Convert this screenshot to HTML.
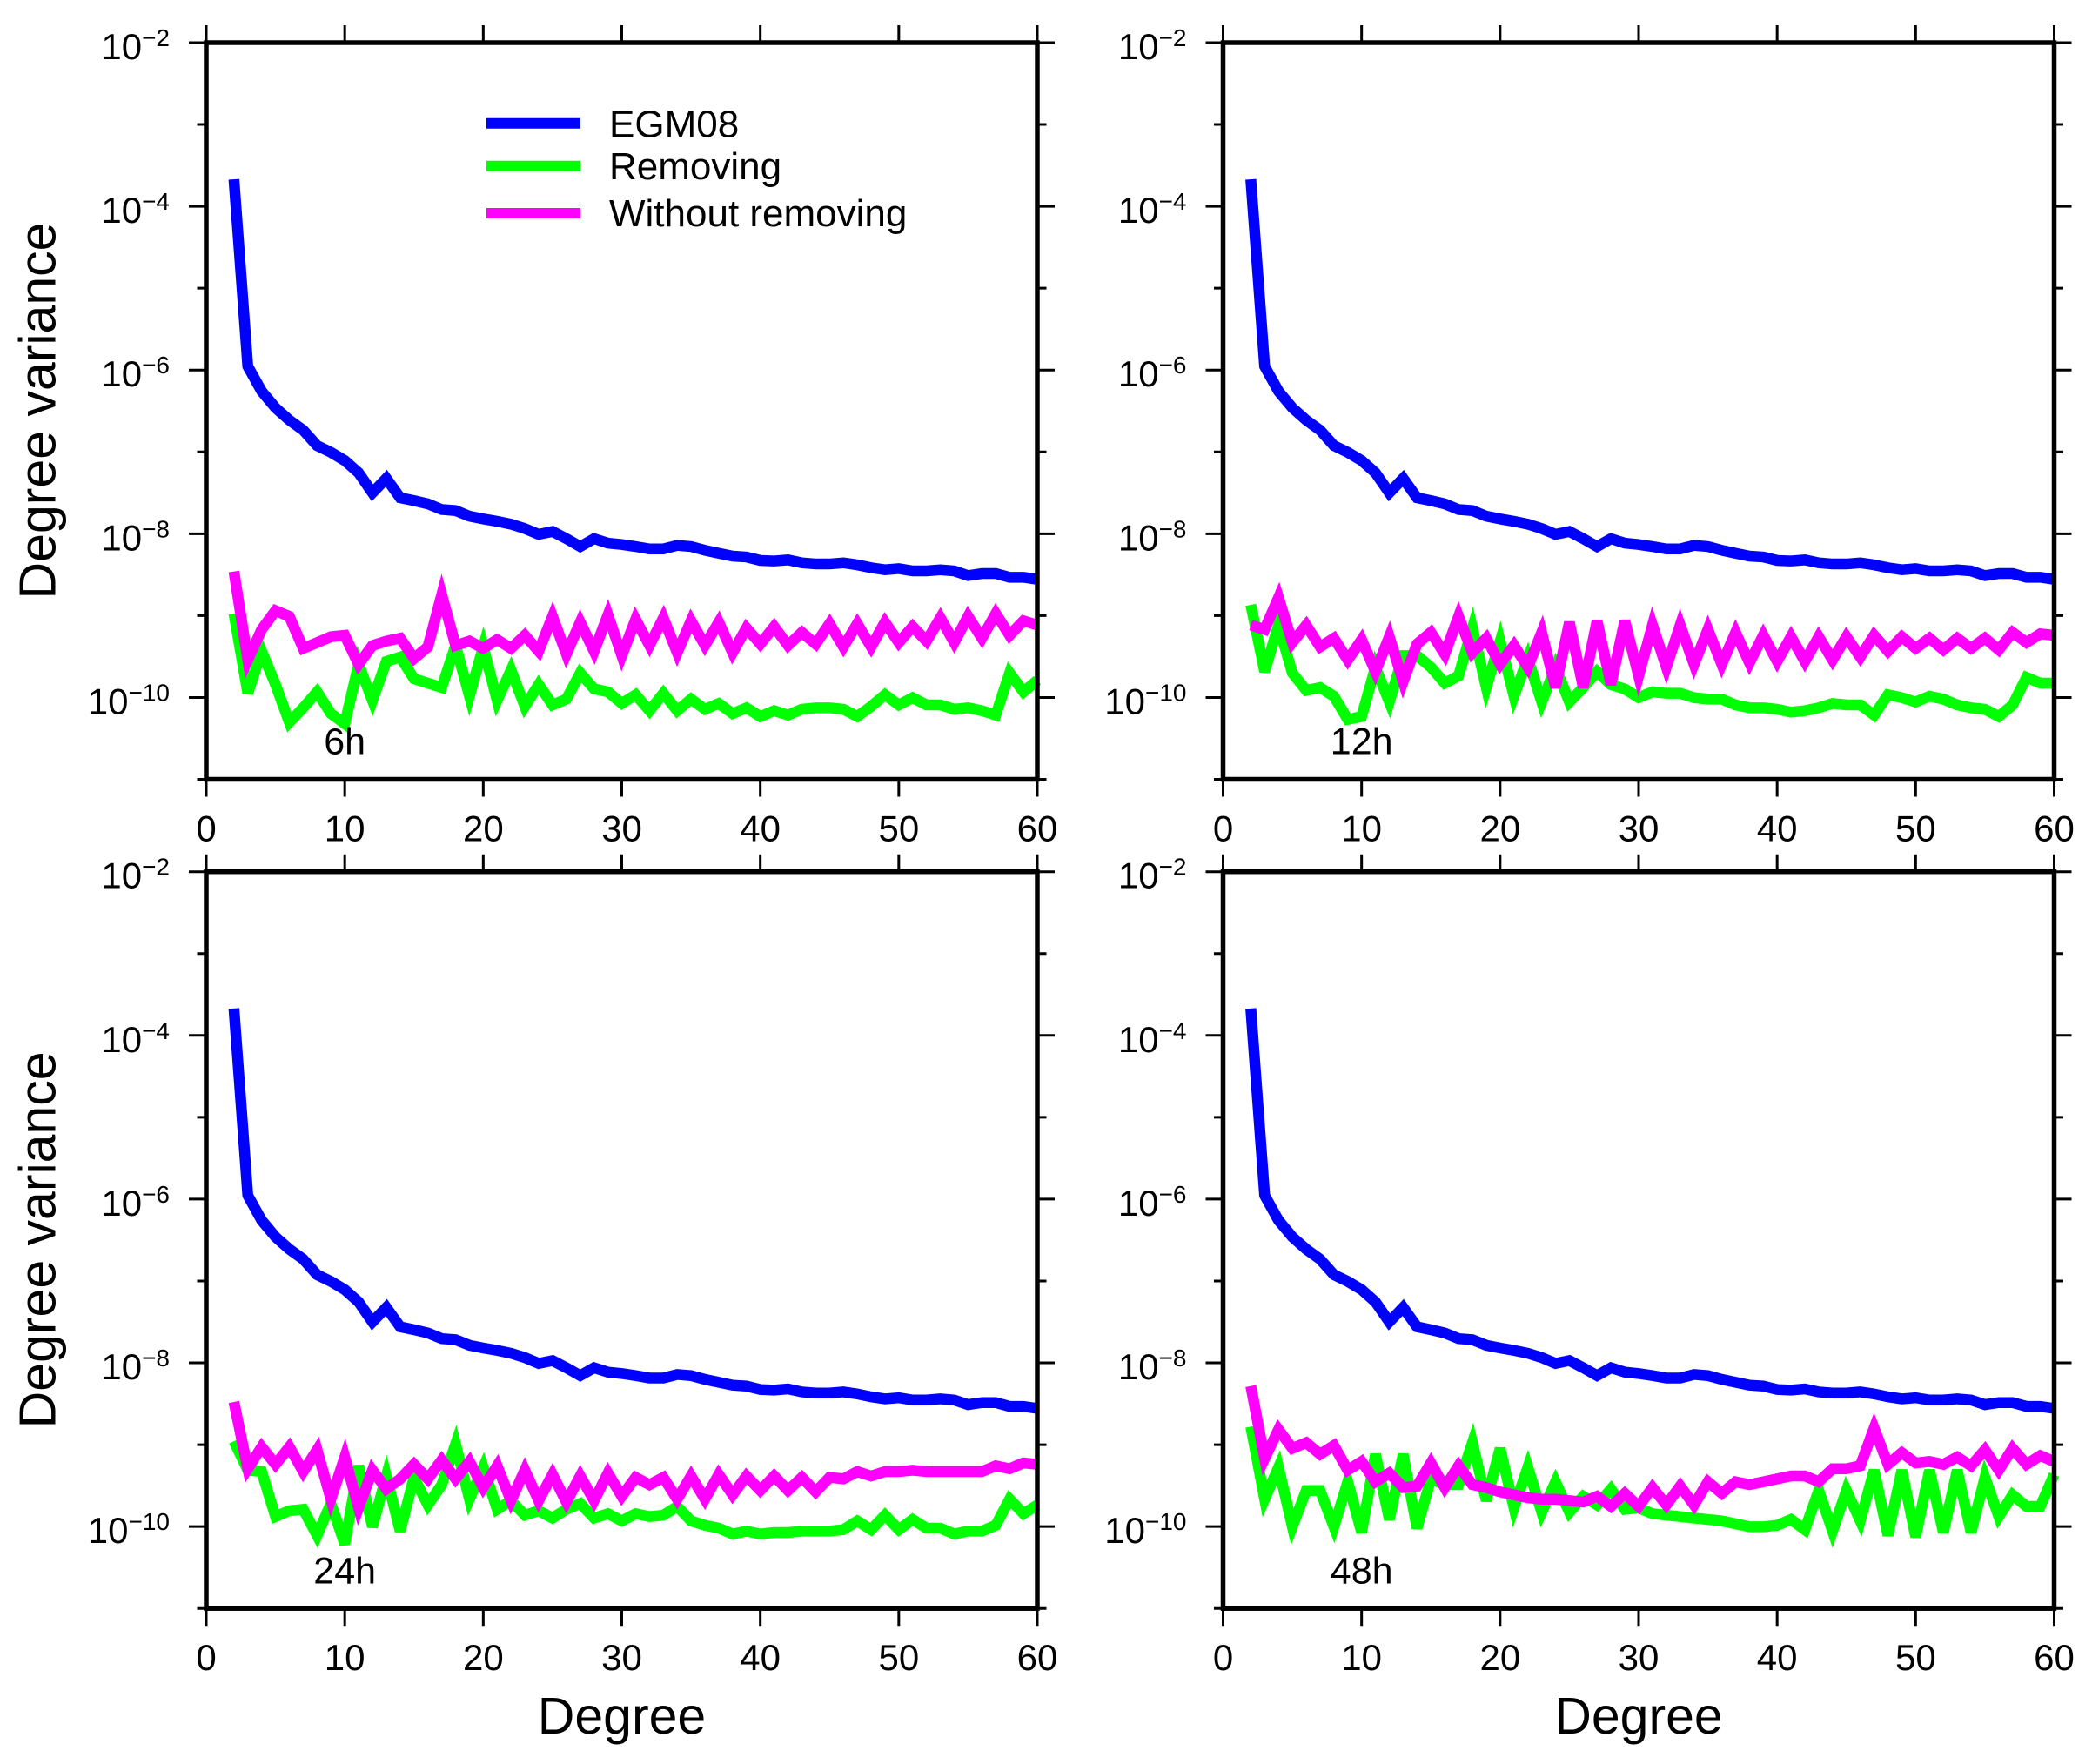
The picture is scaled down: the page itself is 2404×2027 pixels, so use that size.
<!DOCTYPE html>
<html>
<head>
<meta charset="utf-8">
<style>
html,body{margin:0;padding:0;background:#fff;}
svg{display:block;}
text{font-family:"Liberation Sans",Arial,sans-serif;fill:#000;}
</style>
</head>
<body>
<svg width="2404" height="2027" viewBox="0 0 2404 2027" xmlns="http://www.w3.org/2000/svg">
<rect x="0" y="0" width="2404" height="2027" fill="#fff"/>
<defs>
<path id="ticks" fill="none" stroke="#000" stroke-width="3" d="M0 0V-20 M159.17 0V-20 M318.33 0V-20 M477.5 0V-20 M636.67 0V-20 M795.83 0V-20 M955 0V-20 M0 846.5V866.5 M159.17 846.5V866.5 M318.33 846.5V866.5 M477.5 846.5V866.5 M636.67 846.5V866.5 M795.83 846.5V866.5 M955 846.5V866.5 M-20 0H0 M-20 188.11H0 M-20 376.22H0 M-20 564.33H0 M-20 752.44H0 M-10.5 94.06H0 M-10.5 282.17H0 M-10.5 470.28H0 M-10.5 658.39H0 M-10.5 846.5H0 M955 0H975 M955 188.11H975 M955 376.22H975 M955 564.33H975 M955 752.44H975 M955 94.06H965.5 M955 282.17H965.5 M955 470.28H965.5 M955 658.39H965.5 M955 846.5H965.5"/>
<polyline id="egm" fill="none" stroke="#0000ff" stroke-width="12.5" vector-effect="non-scaling-stroke" stroke-linejoin="miter" points="2,3.67 3,5.954 4,6.259 5,6.462 6,6.612 7,6.734 8,6.923 9,7.005 10,7.106 11,7.256 12,7.5 13,7.323 14,7.56 15,7.595 16,7.635 17,7.704 18,7.717 19,7.785 20,7.819 21,7.848 22,7.883 23,7.936 24,8.007 25,7.972 26,8.06 27,8.156 28,8.06 29,8.114 30,8.131 31,8.156 32,8.185 33,8.185 34,8.142 35,8.156 36,8.202 37,8.238 38,8.273 39,8.284 40,8.326 41,8.333 42,8.319 43,8.355 44,8.369 45,8.369 46,8.355 47,8.38 48,8.415 49,8.44 50,8.426 51,8.454 52,8.454 53,8.44 54,8.454 55,8.511 56,8.486 57,8.486 58,8.532 59,8.532 60,8.557"/>
</defs>

<!-- ============ PANEL TL (6h) ============ -->
<g transform="translate(237,49)">
  <use href="#egm" transform="matrix(15.917 0 0 94.056 0 -188.11)"/>
  <polyline fill="none" stroke="#00ff00" stroke-width="12.5" vector-effect="non-scaling-stroke" transform="matrix(15.917 0 0 0.33333 0 541)" points="2,345 3,620 4,475 5,590 6,720 7,670 8,615 9,690 10,725 11,520 12,645 13,510 14,495 15,570 16,585 17,600 18,455 19,630 20,460 21,645 22,540 23,665 24,590 25,660 26,640 27,550 28,605 29,615 30,655 31,625 32,680 33,620 34,680 35,640 36,675 37,655 38,690 39,670 40,700 41,680 42,695 43,675 44,670 45,670 46,675 47,700 48,665 49,625 50,660 51,635 52,660 53,660 54,675 55,670 56,680 57,695 58,550 59,615 60,575"/>
  <polyline fill="none" stroke="#ff00ff" stroke-width="12.5" vector-effect="non-scaling-stroke" transform="matrix(15.917 0 0 0.33333 0 541)" points="2,200 3,505 4,400 5,335 6,355 7,465 8,445 9,425 10,420 11,520 12,455 13,440 14,430 15,500 16,460 17,280 18,455 19,440 20,465 21,435 22,465 23,420 24,475 25,355 26,485 27,375 28,475 29,350 30,490 31,365 32,455 33,360 34,480 35,370 36,455 37,375 38,480 39,395 40,450 41,390 42,455 43,410 44,450 45,380 46,460 47,380 48,460 49,375 50,445 51,390 52,440 53,360 54,445 55,355 56,430 57,345 58,420 59,370 60,385"/>
  <rect x="0" y="0" width="955" height="846.5" fill="none" stroke="#000" stroke-width="5.5"/>
  <use href="#ticks"/>
  <g font-size="42" text-anchor="end">
    <text x="-42" y="19">10<tspan font-size="28" dy="-15">−2</tspan></text>
    <text x="-42" y="207.1">10<tspan font-size="28" dy="-15">−4</tspan></text>
    <text x="-42" y="395.2">10<tspan font-size="28" dy="-15">−6</tspan></text>
    <text x="-42" y="583.3">10<tspan font-size="28" dy="-15">−8</tspan></text>
    <text x="-42" y="771.4">10<tspan font-size="28" dy="-15">−10</tspan></text>
  </g>
  <g font-size="42" text-anchor="middle">
    <text x="0" y="917.5">0</text>
    <text x="159.17" y="917.5">10</text>
    <text x="318.33" y="917.5">20</text>
    <text x="477.5" y="917.5">30</text>
    <text x="636.67" y="917.5">40</text>
    <text x="795.83" y="917.5">50</text>
    <text x="955" y="917.5">60</text>
  </g>
  <text x="159.17" y="817.7" font-size="43" text-anchor="middle">6h</text>
</g>

<!-- Legend -->
<g>
  <line x1="559" y1="141.7" x2="667" y2="141.7" stroke="#0000ff" stroke-width="12"/>
  <line x1="559" y1="190.7" x2="667" y2="190.7" stroke="#00ff00" stroke-width="12"/>
  <line x1="559" y1="245" x2="667" y2="245" stroke="#ff00ff" stroke-width="12"/>
  <text x="700" y="157.3" font-size="44">EGM08</text>
  <text x="700" y="206" font-size="44">Removing</text>
  <text x="700" y="260" font-size="44">Without removing</text>
</g>

<!-- ============ PANEL TR (12h) ============ -->
<g transform="translate(1405.5,49)">
  <use href="#egm" transform="matrix(15.917 0 0 94.056 0 -188.11)"/>
  <polyline fill="none" stroke="#00ff00" stroke-width="12.5" vector-effect="non-scaling-stroke" transform="matrix(15.917 0 0 0.33333 0 541)" points="2,315 3,545 4,385 5,550 6,610 7,600 8,630 9,710 10,700 11,530 12,650 13,490 14,490 15,530 16,585 17,560 18,395 19,600 20,440 21,630 22,500 23,650 24,530 25,650 26,600 27,545 28,590 29,605 30,635 31,615 32,620 33,620 34,635 35,640 36,640 37,660 38,670 39,670 40,675 41,685 42,680 43,670 44,655 45,660 46,660 47,695 48,625 49,635 50,650 51,630 52,640 53,660 54,670 55,675 56,700 57,660 58,565 59,585 60,585"/>
  <polyline fill="none" stroke="#ff00ff" stroke-width="12.5" vector-effect="non-scaling-stroke" transform="matrix(15.917 0 0 0.33333 0 541)" points="2,385 3,400 4,290 5,445 6,385 7,460 8,430 9,505 10,435 11,545 12,425 13,580 14,450 15,410 16,485 17,355 18,480 19,430 20,520 21,455 22,530 23,410 24,600 25,375 26,600 27,370 28,590 29,370 30,560 31,385 32,530 33,385 34,520 35,400 36,520 37,410 38,515 39,420 40,510 41,425 42,510 43,425 44,505 45,425 46,495 47,420 48,475 49,425 50,465 51,430 52,470 53,430 54,465 55,430 56,470 57,410 58,445 59,415 60,420"/>
  <rect x="0" y="0" width="955" height="846.5" fill="none" stroke="#000" stroke-width="5.5"/>
  <use href="#ticks"/>
  <g font-size="42" text-anchor="end">
    <text x="-42" y="19">10<tspan font-size="28" dy="-15">−2</tspan></text>
    <text x="-42" y="207.1">10<tspan font-size="28" dy="-15">−4</tspan></text>
    <text x="-42" y="395.2">10<tspan font-size="28" dy="-15">−6</tspan></text>
    <text x="-42" y="583.3">10<tspan font-size="28" dy="-15">−8</tspan></text>
    <text x="-42" y="771.4">10<tspan font-size="28" dy="-15">−10</tspan></text>
  </g>
  <g font-size="42" text-anchor="middle">
    <text x="0" y="917.5">0</text>
    <text x="159.17" y="917.5">10</text>
    <text x="318.33" y="917.5">20</text>
    <text x="477.5" y="917.5">30</text>
    <text x="636.67" y="917.5">40</text>
    <text x="795.83" y="917.5">50</text>
    <text x="955" y="917.5">60</text>
  </g>
  <text x="159.17" y="817.7" font-size="43" text-anchor="middle">12h</text>
</g>

<!-- ============ PANEL BL (24h) ============ -->
<g transform="translate(237,1001.7)">
  <use href="#egm" transform="matrix(15.917 0 0 94.056 0 -188.11)"/>
  <polyline fill="none" stroke="#00ff00" stroke-width="12.5" vector-effect="non-scaling-stroke" transform="matrix(15.917 0 0 0.33333 0 541)" points="2,340 3,440 4,445 5,600 6,580 7,575 8,665 9,555 10,695 11,425 12,635 13,460 14,650 15,465 16,560 17,490 18,350 19,540 20,430 21,575 22,545 23,595 24,580 25,605 26,575 27,555 28,605 29,590 30,615 31,590 32,600 33,595 34,565 35,615 36,630 37,640 38,660 39,650 40,660 41,655 42,655 43,650 44,650 45,650 46,645 47,615 48,645 49,595 50,645 51,610 52,640 53,640 54,660 55,650 56,650 57,630 58,540 59,590 60,560"/>
  <polyline fill="none" stroke="#ff00ff" stroke-width="12.5" vector-effect="non-scaling-stroke" transform="matrix(15.917 0 0 0.33333 0 541)" points="2,205 3,435 4,360 5,420 6,360 7,445 8,370 9,540 10,395 11,570 12,440 13,505 14,470 15,420 16,470 17,405 18,470 19,410 20,500 21,425 22,545 23,440 24,545 25,455 26,550 27,460 28,545 29,450 30,530 31,465 32,490 33,465 34,540 35,460 36,540 37,455 38,525 39,460 40,510 41,460 42,510 43,465 44,515 45,465 46,470 47,445 48,460 49,445 50,445 51,440 52,445 53,445 54,445 55,445 56,445 57,425 58,435 59,415 60,420"/>
  <rect x="0" y="0" width="955" height="846.5" fill="none" stroke="#000" stroke-width="5.5"/>
  <use href="#ticks"/>
  <g font-size="42" text-anchor="end">
    <text x="-42" y="19">10<tspan font-size="28" dy="-15">−2</tspan></text>
    <text x="-42" y="207.1">10<tspan font-size="28" dy="-15">−4</tspan></text>
    <text x="-42" y="395.2">10<tspan font-size="28" dy="-15">−6</tspan></text>
    <text x="-42" y="583.3">10<tspan font-size="28" dy="-15">−8</tspan></text>
    <text x="-42" y="771.4">10<tspan font-size="28" dy="-15">−10</tspan></text>
  </g>
  <g font-size="42" text-anchor="middle">
    <text x="0" y="917.5">0</text>
    <text x="159.17" y="917.5">10</text>
    <text x="318.33" y="917.5">20</text>
    <text x="477.5" y="917.5">30</text>
    <text x="636.67" y="917.5">40</text>
    <text x="795.83" y="917.5">50</text>
    <text x="955" y="917.5">60</text>
  </g>
  <text x="159.17" y="817.7" font-size="43" text-anchor="middle">24h</text>
</g>

<!-- ============ PANEL BR (48h) ============ -->
<g transform="translate(1405.5,1001.7)">
  <use href="#egm" transform="matrix(15.917 0 0 94.056 0 -188.11)"/>
  <polyline fill="none" stroke="#00ff00" stroke-width="12.5" vector-effect="non-scaling-stroke" transform="matrix(15.917 0 0 0.33333 0 541)" points="2,290 3,540 4,430 5,635 6,510 7,510 8,635 9,480 10,655 11,385 12,610 13,385 14,640 15,470 16,490 17,490 18,345 19,545 20,365 21,570 22,430 23,585 24,480 25,585 26,530 27,560 28,505 29,575 30,570 31,590 32,595 33,600 34,605 35,610 36,615 37,625 38,635 39,635 40,630 41,610 42,645 43,510 44,650 45,510 46,615 47,440 48,665 49,440 50,670 51,440 52,655 53,440 54,655 55,465 56,600 57,525 58,565 59,565 60,455"/>
  <polyline fill="none" stroke="#ff00ff" stroke-width="12.5" vector-effect="non-scaling-stroke" transform="matrix(15.917 0 0 0.33333 0 541)" points="2,150 3,400 4,300 5,365 6,345 7,385 8,355 9,440 10,410 11,480 12,450 13,500 14,495 15,415 16,500 17,425 18,490 19,500 20,515 21,525 22,535 23,540 24,540 25,545 26,550 27,530 28,565 29,520 30,565 31,500 32,560 33,495 34,560 35,480 36,520 37,480 38,490 39,480 40,470 41,460 42,460 43,480 44,435 45,435 46,425 47,295 48,420 49,380 50,415 51,410 52,420 53,395 54,425 55,370 56,440 57,365 58,420 59,390 60,410"/>
  <rect x="0" y="0" width="955" height="846.5" fill="none" stroke="#000" stroke-width="5.5"/>
  <use href="#ticks"/>
  <g font-size="42" text-anchor="end">
    <text x="-42" y="19">10<tspan font-size="28" dy="-15">−2</tspan></text>
    <text x="-42" y="207.1">10<tspan font-size="28" dy="-15">−4</tspan></text>
    <text x="-42" y="395.2">10<tspan font-size="28" dy="-15">−6</tspan></text>
    <text x="-42" y="583.3">10<tspan font-size="28" dy="-15">−8</tspan></text>
    <text x="-42" y="771.4">10<tspan font-size="28" dy="-15">−10</tspan></text>
  </g>
  <g font-size="42" text-anchor="middle">
    <text x="0" y="917.5">0</text>
    <text x="159.17" y="917.5">10</text>
    <text x="318.33" y="917.5">20</text>
    <text x="477.5" y="917.5">30</text>
    <text x="636.67" y="917.5">40</text>
    <text x="795.83" y="917.5">50</text>
    <text x="955" y="917.5">60</text>
  </g>
  <text x="159.17" y="817.7" font-size="43" text-anchor="middle">48h</text>
</g>

<!-- Axis titles -->
<text transform="translate(63.5,472) rotate(-90)" x="0" y="0" font-size="59" text-anchor="middle">Degree variance</text>
<text transform="translate(63.5,1424.9) rotate(-90)" x="0" y="0" font-size="59" text-anchor="middle">Degree variance</text>
<text x="714.5" y="1992" font-size="59" text-anchor="middle">Degree</text>
<text x="1883" y="1992" font-size="59" text-anchor="middle">Degree</text>
</svg>
</body>
</html>
